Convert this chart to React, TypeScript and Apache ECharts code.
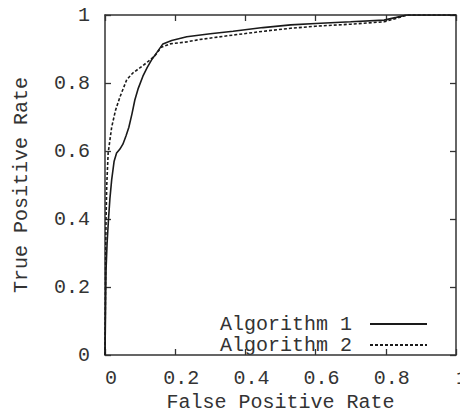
import React, { useEffect, useRef } from "react";
import * as echarts from "echarts";

const xTicks = [0, 0.2, 0.4, 0.6, 0.8, 1];
const yTicks = [0, 0.2, 0.4, 0.6, 0.8, 1];
const seriesNames = ["Algorithm 1", "Algorithm 2"];

const algo1: [number, number][] = [
  [0, 0], [0.003, 0.25], [0.006, 0.33], [0.01, 0.4], [0.014, 0.46], [0.019, 0.515],
  [0.026, 0.57], [0.033, 0.594], [0.042, 0.605], [0.051, 0.62], [0.06, 0.645],
  [0.068, 0.67], [0.077, 0.71], [0.085, 0.75], [0.095, 0.785], [0.108, 0.82],
  [0.12, 0.845], [0.134, 0.87], [0.148, 0.89], [0.165, 0.915], [0.19, 0.925],
  [0.233, 0.936], [0.3, 0.945], [0.365, 0.952], [0.45, 0.963], [0.529, 0.971],
  [0.6, 0.975], [0.7, 0.98], [0.795, 0.985], [0.83, 0.993], [0.86, 1], [1, 1],
];

const algo2: [number, number][] = [
  [0, 0], [0.002, 0.3], [0.003, 0.4], [0.005, 0.5], [0.009, 0.594], [0.019, 0.67],
  [0.03, 0.72], [0.043, 0.76], [0.062, 0.81], [0.08, 0.83], [0.1, 0.845],
  [0.119, 0.86], [0.142, 0.88], [0.16, 0.905], [0.185, 0.915], [0.233, 0.921],
  [0.27, 0.928], [0.365, 0.941], [0.45, 0.952], [0.529, 0.961], [0.6, 0.967],
  [0.7, 0.973], [0.795, 0.98], [0.83, 0.99], [0.86, 1], [1, 1],
];

const FONT = "'Liberation Mono', 'DejaVu Sans Mono', monospace";
const TEXT = "#333";
const LINE = "#1a1a1a";

export default function App() {
  const ref = useRef<HTMLDivElement>(null);
  useEffect(() => {
    if (!ref.current) return;
    const chart = echarts.init(ref.current, undefined, { renderer: "svg" });
    const fmt = (v: number) => (xTicks.includes(v) ? String(v) : "");
    const baseAxis = {
      type: "value" as const,
      min: 0,
      max: 1,
      interval: 0.2,
      splitLine: { show: false },
      axisLine: { show: true, onZero: false, lineStyle: { color: "#333", width: 1.5 } },
      axisTick: { show: true, inside: true, length: 6, lineStyle: { color: "#333", width: 1.3 } },
    };
    chart.setOption({
      animation: false,
      backgroundColor: "#fff",
      grid: { left: 105, right: 12, top: 15, bottom: 63, show: false, containLabel: false, outerBoundsMode: "none" },
      legend: {
        data: seriesNames,
        orient: "vertical",
        align: "right",
        right: 35,
        top: 309,
        itemGap: 1,
        itemWidth: 57,
        itemHeight: 14,
        itemStyle: { opacity: 0 },
        textStyle: { fontFamily: FONT, fontSize: 20, color: TEXT, padding: [0, 13, 0, 0] },
      },
      xAxis: [
        {
          ...baseAxis,
          position: "bottom",
          name: "False Positive Rate",
          nameLocation: "middle",
          nameGap: 37,
          nameTextStyle: { fontFamily: FONT, fontSize: 20, color: TEXT },
          axisLabel: {
            fontFamily: FONT, fontSize: 20, color: TEXT, margin: 13,
            padding: [0, 0, 0, 12], formatter: fmt,
          },
        },
        { ...baseAxis, position: "top", axisLabel: { show: false } },
      ],
      yAxis: [
        {
          ...baseAxis,
          position: "left",
          name: "True Positive Rate",
          nameLocation: "middle",
          nameGap: 74,
          nameTextStyle: { fontFamily: FONT, fontSize: 20, color: TEXT },
          axisLabel: { fontFamily: FONT, fontSize: 20, color: TEXT, margin: 15, formatter: (v: number) => (yTicks.includes(v) ? String(v) : "") },
        },
        { ...baseAxis, position: "right", axisLabel: { show: false } },
      ],
      series: [
        {
          name: seriesNames[0],
          type: "line",
          data: algo1,
          showSymbol: false,
          symbol: "none",
          lineStyle: { color: LINE, width: 1.6, type: "solid" },
          itemStyle: { color: LINE },
        },
        {
          name: seriesNames[1],
          type: "line",
          data: algo2,
          showSymbol: false,
          symbol: "none",
          lineStyle: { color: LINE, width: 1.6, type: [3, 2] },
          itemStyle: { color: LINE },
        },
      ],
    });
    return () => chart.dispose();
  }, []);
  return <div ref={ref} style={{ width: 468, height: 418, margin: -8 }} />;
}
